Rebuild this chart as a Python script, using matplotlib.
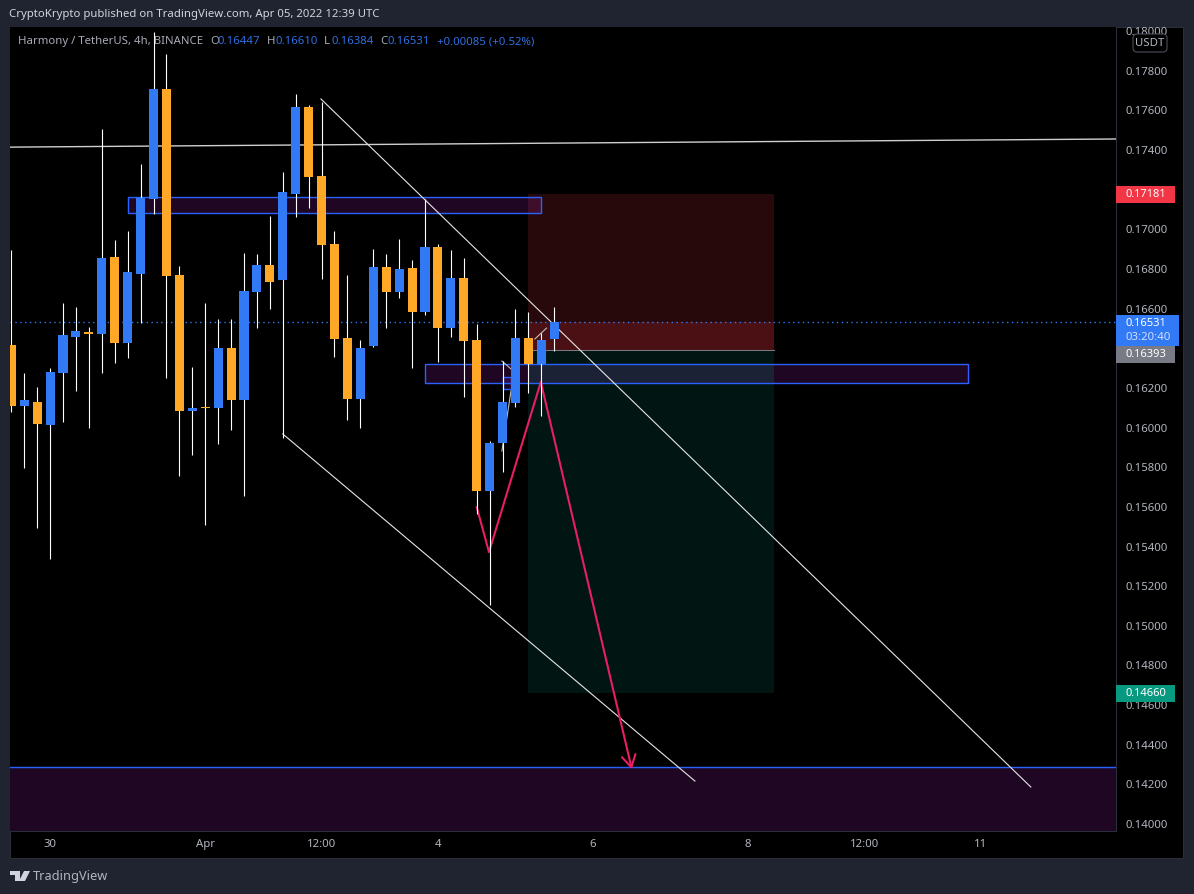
import matplotlib
matplotlib.use("Agg")
import matplotlib.pyplot as plt
from matplotlib.patches import Rectangle, Polygon, FancyBboxPatch

plt.rcParams['font.family'] = ['Noto Sans', 'DejaVu Sans']

# OHLC, 4h bars, HARMONY / USDT
opens = [.16417,.16109,.16129,.16013,.16275,.16457,.16482,.16472,.16860,.16427,.16775,.17153,.17708,.16770,.16084,
         .16104,.16099,.16401,.16139,.16684,.16820,.16745,.17183,.17617,.17269,.16926,.16452,.16144,.16412,.16810,
         .16684,.16805,.16583,.16911,.16507,.16755,.16442,.15680,.15922,.16124,.16452,.16321,.16447]
highs = [.16896,.16275,.16205,.16301,.16628,.16608,.16507,.17506,.16946,.16992,.17330,.17996,.17885,.16815,.16306,
         .16628,.16548,.16548,.16881,.16876,.17067,.17289,.17683,.17627,.17643,.16992,.16770,.16442,.16901,.16876,
         .16951,.16845,.17153,.16926,.16896,.16855,.16523,.15932,.16336,.16598,.16583,.16477,.16610]
lows  = [.16079,.15796,.15493,.15337,.16028,.16185,.15998,.16275,.16326,.16351,.16528,.17077,.16250,.15756,.15862,
         .15508,.15917,.15988,.15655,.16502,.16598,.15947,.17062,.17108,.16750,.16356,.16038,.15998,.16406,.16502,
         .16654,.16301,.16568,.16331,.16457,.16154,.15564,.15105,.15776,.16104,.16174,.16058,.16384]
closes = [.16109,.16139,.16018,.16280,.16467,.16487,.16472,.16855,.16427,.16785,.17158,.17708,.16765,.16084,.16099,
          .16099,.16401,.16139,.16689,.16820,.16739,.17188,.17617,.17264,.16921,.16447,.16144,.16401,.16810,.16684,
          .16800,.16583,.16911,.16502,.16755,.16437,.15680,.15922,.16129,.16452,.16321,.16442,.16531]

x_tick_pos = [3, 15, 24, 33, 45, 57, 66, 75]
x_tick_labels = ['30', 'Apr', '12:00', '4', '6', '8', '12:00', '11']
y_ticks = [.14 + .002 * i for i in range(21)]
y_hidden = ['0.17200', '0.16400']   # covered by the price tags in the reference

last_price = .16531
entry_price = .16393
stop_price = .17181
target_price = .14660
position_x = [40, 59]

flat_x, flat_y = [-0.1, 85.45], [.17415, .17456]
upper_x, upper_y = [23.95, 78.86], [.17658, .14187]
lower_x, lower_y = [21.0, 52.88], [.15968, .14217]
box_hi_x, box_hi_y = [9.0, 41.0], [.17082, .17163]
box_mid_x, box_mid_y = [32.0, 74.0], [.16225, .16321]
box_small_x, box_small_y = [38.0, 38.65], [.16195, .16255]
zone_top = .14288
pink_x, pink_y = [36.0, 36.95, 40.96, 48.0], [.15599, .15372, .16230, .14277]
small_segments = [([37.95, 38.65], [.16336, .16296]), ([38.65, 37.95], [.16185, .15882]),
                  ([40.5, 41.4], [.16447, .16502])]

XL = (-0.1, 85.45)
YL = (.13965, .18021)
BG = '#1f2430'
BLUE = '#3179f5'
ORANGE = '#ffa726'
EDGE = '#2962ff'
TXT = '#b2b5be'

W, H = 1194, 894
fig = plt.figure(figsize=(W / 100, H / 100), dpi=100, facecolor=BG)
fig.add_artist(Rectangle((10 / W, 1 - 858 / H), 1173 / W, 831 / H, transform=fig.transFigure,
                         fc='black', ec='#2a2e39', lw=0.75, zorder=-1))

ax = fig.add_axes([10 / W, 1 - 831 / H, 1106 / W, 804 / H], facecolor='black')
ax.set_xlim(*XL)
ax.set_ylim(*YL)
for s in ax.spines.values():
    s.set_visible(False)
for side in ('right', 'bottom'):
    ax.spines[side].set_visible(True)
    ax.spines[side].set_color('#2a2e39')
    ax.spines[side].set_linewidth(0.75)
ax.yaxis.tick_right()
ax.set_yticks(y_ticks)
ax.set_yticklabels(['' if f'{v:.5f}' in y_hidden else f'{v:.5f}' for v in y_ticks])
ax.set_xticks(x_tick_pos)
ax.set_xticklabels(x_tick_labels)
ax.tick_params(axis='y', length=0, pad=7, labelcolor=TXT, labelsize=8.2)
ax.tick_params(axis='x', length=0, pad=6, labelcolor=TXT, labelsize=8.2)

# zones and drawings
def rect(xs, ys, **kw):
    ax.add_patch(Rectangle((xs[0], ys[0]), xs[1] - xs[0], ys[1] - ys[0], **kw))

rect(position_x, [entry_price, stop_price], fc=(0.95, 0.21, 0.27, 0.17), ec='none', zorder=1)
rect(position_x, [entry_price, last_price], fc=(0.95, 0.21, 0.27, 0.17), ec='none', zorder=1)
rect(position_x, [target_price, entry_price], fc=(0.03, 0.6, 0.5, 0.14), ec='none', zorder=1)
ax.plot(position_x, [entry_price, entry_price], color='#787b86', lw=0.75, zorder=1.5)

purple = (0.61, 0.15, 0.69, 0.2)
rect(box_hi_x, box_hi_y, fc=purple, ec='none', zorder=1.6)
rect(box_mid_x, box_mid_y, fc=purple, ec='none', zorder=1.6)
rect(position_x, box_mid_y, fc='#1c2235', ec='none', zorder=1.62)
rect(box_small_x, box_small_y, fc=purple, ec='none', zorder=1.66)
rect(XL, [YL[0], zone_top], fc=purple, ec='none', zorder=1.6)
rect(box_hi_x, box_hi_y, fc='none', ec=EDGE, lw=1.0, zorder=1.7)
rect(box_mid_x, box_mid_y, fc='none', ec=EDGE, lw=1.0, zorder=1.7)
rect(box_small_x, box_small_y, fc='none', ec=EDGE, lw=1.0, zorder=1.7)
ax.plot(XL, [zone_top, zone_top], color=EDGE, lw=1.0, zorder=1.7)

ax.plot(XL, [last_price, last_price], color=BLUE, lw=1.0, ls=(0, (1, 2.5)), zorder=1.8)
ax.plot(flat_x, flat_y, color='#cfcfcf', lw=1.0, zorder=2)
ax.plot(upper_x, upper_y, color='#e6e6e6', lw=0.8, zorder=2)
ax.plot(lower_x, lower_y, color='#e6e6e6', lw=0.8, zorder=2)
for sx, sy in small_segments:
    ax.plot(sx, sy, color='#c0c0c0', lw=0.8, zorder=2)

ax.plot(pink_x[:-1], pink_y[:-1], color='#e91e63', lw=1.5, zorder=2.2)
ax.annotate('', xy=(pink_x[-1], pink_y[-1]), xytext=(pink_x[-2], pink_y[-2]), zorder=2.2,
            arrowprops=dict(arrowstyle='->,head_length=0.85,head_width=0.5', color='#e91e63', lw=1.5,
                            shrinkA=0, shrinkB=0))

# candles
idx = list(range(len(opens)))
ax.vlines(idx, lows, highs, color='white', lw=0.8, zorder=3)
bodies = [abs(c - o) for o, c in zip(opens, closes)]
bottoms = [min(o, c) for o, c in zip(opens, closes)]
colors = [BLUE if c >= o else ORANGE for o, c in zip(opens, closes)]
ax.bar(idx, bodies, bottom=bottoms, width=0.7, color=colors, lw=0, zorder=3.2)
ax.bar(idx, [.00009] * len(idx), bottom=[b - .00002 for b in bottoms],
       width=0.7, color=colors, lw=0, zorder=3.2)

# overlay in pixel space for page furniture
ov = fig.add_axes([0, 0, 1, 1], facecolor='none')
ov.set_xlim(0, W)
ov.set_ylim(H, 0)
ov.axis('off')

def t(x, y, s, color=TXT, size=8.2, **kw):
    ov.text(x, y, s, color=color, fontsize=size, va='center', ha=kw.pop('ha', 'left'), **kw)

t(9, 15, 'CryptoKrypto published on TradingView.com, Apr 05, 2022 12:39 UTC', color='#d1d4dc', size=8.2)
LB = '#2f6fe0'
t(18, 41.5, 'Harmony / TetherUS, 4h, BINANCE', color='#a8abb5', size=8.2)
for x, lab, val in [(210, 'O', '0.16447'), (267, 'H', '0.16610'), (324, 'L', '0.16384'), (380, 'C', '0.16531')]:
    t(x, 41.5, lab, color='#a8abb5', size=8.2)
    t(x + 8, 41.5, val, color=LB, size=8.2)
t(437, 41.5, '+0.00085 (+0.52%)', color=LB, size=8.2)

def tag(y0, y1, x1, fc):
    ov.add_patch(Rectangle((1116, y0), x1 - 1116, y1 - y0, fc=fc, ec='none', zorder=5))

tag(186, 203, 1175, '#f23645')
t(1125, 194.5, f'{stop_price:.5f}', color='white', zorder=6, weight='bold', size=8)
tag(685, 702, 1175, '#089981')
t(1125, 693.5, f'{target_price:.5f}', color='white', zorder=6, weight='bold', size=8)
tag(315, 346, 1179, BLUE)
t(1125, 323.5, f'{last_price:.5f}', color='white', zorder=6, weight='bold', size=8)
t(1125, 337.5, '03:20:40', color='#cfe0ff', zorder=6, size=8.2)
tag(346, 363, 1175, '#787b86')
t(1125, 354.5, f'{entry_price:.5f}', color='white', zorder=6, weight='bold', size=8)

ov.add_patch(FancyBboxPatch((1135, 36), 30, 14, boxstyle='round,pad=2,rounding_size=4',
                            fc='black', ec='#50535e', lw=0.75, zorder=5))
t(1150, 43, 'USDT', color=TXT, size=8.2, ha='center', zorder=6)

# logo
ov.add_patch(Polygon([(10, 871), (20, 871), (20, 881), (15, 881), (15, 875), (10, 875)], fc='#d1d4dc', ec='none'))
ov.add_patch(Polygon([(24, 871), (30, 871), (25, 881), (19, 881)], fc='#d1d4dc', ec='none'))
t(33, 876.5, 'TradingView', color='#b2b5be', size=9.2)

fig.savefig('out.png', dpi=100, facecolor=BG)
